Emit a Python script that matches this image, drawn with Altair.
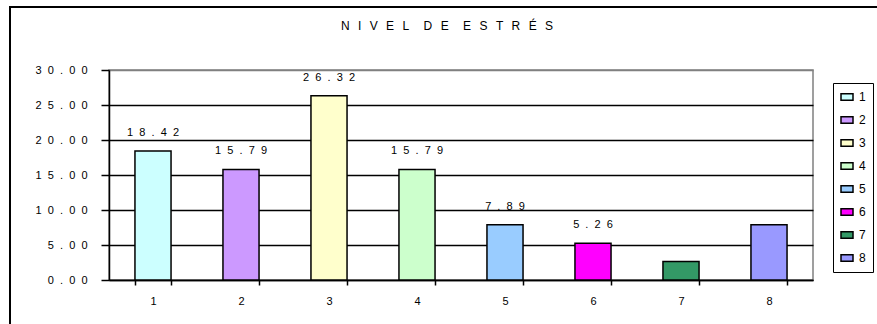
import altair as alt
import pandas as pd

categories = ["1", "2", "3", "4", "5", "6", "7", "8"]
values = [18.42, 15.79, 26.32, 15.79, 7.89, 5.26, 2.63, 7.89]
labeled = [True, True, True, True, True, True, False, False]
colors = ["#CCFFFF", "#CC99FF", "#FFFFCC", "#CCFFCC", "#99CCFF", "#FF00FF", "#339966", "#9999FF"]
y_ticks = [0, 5, 10, 15, 20, 25, 30]
title_words = ["NIVEL", "DE", "ESTRÉS"]

SP = "\u2007"            # figure space used as letter spacing for numbers
LETTER_GAP = "\u2002\u2009"
WORD_GAP = "\u2003\u2009"
title_text = WORD_GAP.join(LETTER_GAP.join(w) for w in title_words)

df = pd.DataFrame({"cat": categories, "val": values, "lab": labeled})

FONT = "Liberation Sans"
W, H = 704, 210
L, T = 109, 70
SPACED = "join(split(format({v}, '.2f'), ''), '" + SP + "')"

x = alt.X(
    "cat:N", sort=categories, title=None,
    scale=alt.Scale(paddingInner=0.59, paddingOuter=0.295),
    axis=alt.Axis(labelAngle=0, tickBand="extent", domainColor="black", tickColor="black",
                  tickSize=5, labelPadding=10, labelFontSize=11, labelFont=FONT,
                  labelColor="black", grid=False, domainWidth=1.5, tickWidth=1.5),
)
y = alt.Y(
    "val:Q", title=None,
    scale=alt.Scale(domain=[0, 30], nice=False),
    axis=alt.Axis(values=y_ticks, tickCount=7, labelOverlap=False,
                  labelExpr=SPACED.format(v="datum.value"), tickSize=8,
                  labelPadding=14, labelFontSize=11, labelFont=FONT, labelColor="black",
                  domainColor="black", tickColor="black", domainWidth=1.5, tickWidth=1.5,
                  grid=True,
                  gridColor=alt.condition("datum.value == 30", alt.value("#808080"), alt.value("black")),
                  gridWidth=1.5),
)

bars = alt.Chart(df).mark_bar(stroke="black", strokeWidth=1.5).encode(
    x=x, y=y,
    color=alt.Color(
        "cat:N", sort=categories,
        scale=alt.Scale(domain=categories, range=colors),
        legend=alt.Legend(
            title=None, orient="none", legendX=724, legendY=13,
            strokeColor="black", fillColor="white", padding=7,
            symbolType="M-1,-0.55L1,-0.55L1,0.55L-1,0.55Z", symbolSize=144,
            symbolStrokeColor="black", symbolStrokeWidth=1.5,
            labelFontSize=12, labelFont=FONT, labelColor="black",
            rowPadding=9, labelOffset=5,
        ),
    ),
)

texts = alt.Chart(df).transform_filter("datum.lab").transform_calculate(
    txt=SPACED.format(v="datum.val")
).mark_text(dy=-18, fontSize=11, font=FONT, color="black").encode(
    x=alt.X("cat:N", sort=categories), y=alt.Y("val:Q"), text="txt:N"
)

frame = alt.Chart(pd.DataFrame({"a": [0]})).mark_rect(
    fill=None, stroke="black", strokeWidth=2
).encode(
    x=alt.value(10 - L), x2=alt.value(W + 300), y=alt.value(7 - T), y2=alt.value(H + 300)
)

title = alt.Chart(pd.DataFrame({"t": [title_text]})).mark_text(
    fontSize=12, font=FONT, color="black", baseline="middle", align="center"
).encode(x=alt.value(447 - L), y=alt.value(26 - T), text="t:N")

chart = alt.layer(frame, bars, texts, title).properties(
    width=W, height=H,
    autosize=alt.AutoSizeParams(type="none"),
    padding={"left": L, "top": T, "right": 877 - L - W, "bottom": 324 - T - H},
).configure_view(stroke="#808080", strokeWidth=1.5)

chart.save("out.html", embed_options={"renderer": "svg", "actions": False})
